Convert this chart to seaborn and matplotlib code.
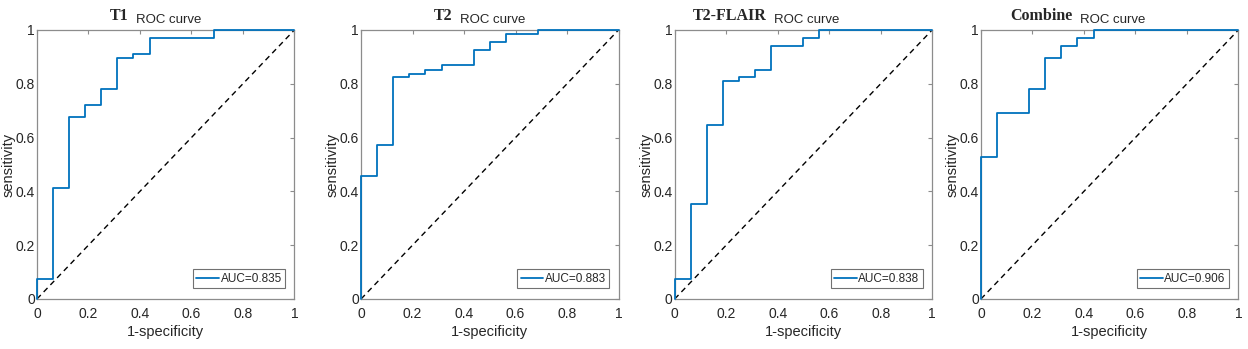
import matplotlib
matplotlib.use("Agg")
import matplotlib.pyplot as plt
import pandas as pd
import seaborn as sns

# ROC step corners (false positive rate, true positive rate)
t1_fpr = [0, 0, 0.0625, 0.125, 0.1875, 0.25, 0.3125, 0.375, 0.4375, 0.6875, 1]
t1_tpr = [0, 0.074, 0.412, 0.676, 0.721, 0.779, 0.897, 0.912, 0.971, 1, 1]

t2_fpr = [0, 0, 0.0625, 0.125, 0.1875, 0.25, 0.3125, 0.4375, 0.5, 0.5625, 0.6875, 1]
t2_tpr = [0, 0.456, 0.574, 0.824, 0.838, 0.853, 0.868, 0.926, 0.956, 0.985, 1, 1]

flair_fpr = [0, 0, 0.0625, 0.125, 0.1875, 0.25, 0.3125, 0.375, 0.5, 0.5625, 1]
flair_tpr = [0, 0.074, 0.353, 0.647, 0.809, 0.824, 0.853, 0.941, 0.971, 1, 1]

comb_fpr = [0, 0, 0.0625, 0.1875, 0.25, 0.3125, 0.375, 0.4375, 1]
comb_tpr = [0, 0.529, 0.691, 0.779, 0.897, 0.941, 0.971, 1, 1]

names = ["T1", "T2", "T2-FLAIR", "Combine"]
aucs = ["0.835", "0.883", "0.838", "0.906"]
tick_vals = [0, 0.2, 0.4, 0.6, 0.8, 1]
tick_labels = ["0", "0.2", "0.4", "0.6", "0.8", "1"]

curves = [(t1_fpr, t1_tpr), (t2_fpr, t2_tpr), (flair_fpr, flair_tpr), (comb_fpr, comb_tpr)]

sns.set_style("white")
plt.rcParams["font.family"] = ["Liberation Sans", "DejaVu Sans"]

blue = "#0072BD"
spine_gray = "#8c8c8c"
text_col = "#262626"

fig = plt.figure(figsize=(12.48, 3.49), dpi=100)
lefts = [0.0296, 0.2893, 0.5406, 0.786]

for i, (fpr, tpr) in enumerate(curves):
    ax = fig.add_axes([lefts[i], 0.1433, 0.2063, 0.7708])
    df = pd.DataFrame({"fpr": fpr, "tpr": tpr})
    sns.lineplot(data=df, x="fpr", y="tpr", estimator=None, sort=False,
                 drawstyle="steps-post", color=blue, linewidth=1.3,
                 label="AUC=" + aucs[i], ax=ax, clip_on=False, zorder=5)
    sns.lineplot(x=[0, 1], y=[0, 1], color="black", linestyle=(0, (4, 3)),
                 linewidth=1.0, ax=ax)
    ax.set_xlim(0, 1)
    ax.set_ylim(0, 1)
    ax.set_xticks(tick_vals)
    ax.set_xticklabels(tick_labels)
    ax.set_yticks(tick_vals)
    ax.set_yticklabels(tick_labels)
    ax.tick_params(direction="in", top=True, right=True, length=3, width=0.8,
                   color=spine_gray, labelcolor=text_col, labelsize=10)
    ax.tick_params(axis="x", pad=6)
    ax.tick_params(axis="y", pad=1.5)
    for sp in ax.spines.values():
        sp.set_color(spine_gray)
        sp.set_linewidth(0.9)
    ax.set_xlabel("1-specificity", fontsize=10.5, color=text_col, labelpad=3)
    ax.set_ylabel("sensitivity", fontsize=10.5, color=text_col, labelpad=0)

    ax.text(0.355, 1.037, names[i], transform=ax.transAxes, ha="right",
            va="baseline", family="Liberation Serif", fontsize=11.5,
            fontweight="bold", color=text_col)
    ax.text(0.385, 1.027, "ROC curve", transform=ax.transAxes, ha="left",
            va="baseline", fontsize=9.5, color=text_col)

    leg = ax.legend(loc="lower right", bbox_to_anchor=(0.965, 0.04),
                    frameon=True, fancybox=False, fontsize=8.5,
                    handlelength=1.9, handletextpad=0.15, borderpad=0.3,
                    borderaxespad=0)
    leg.get_frame().set_edgecolor("#4d4d4d")
    leg.get_frame().set_linewidth(0.8)
    for t in leg.get_texts():
        t.set_color(text_col)

fig.savefig("out.png", dpi=100)
